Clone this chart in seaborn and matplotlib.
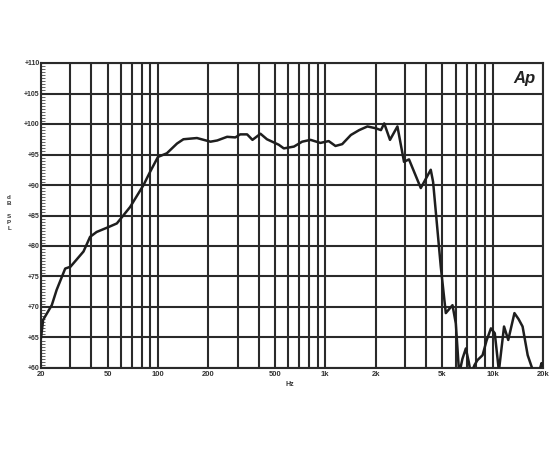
import numpy as np
import pandas as pd
import seaborn as sns
import matplotlib.pyplot as plt
from matplotlib.ticker import FixedLocator, NullFormatter

# frequency response
freq = [20, 20.6, 23.2, 24.8, 27.9, 30, 35.9, 39.3, 43, 50.6, 56.8, 68.2, 82, 89.9,
        100, 113, 130, 142, 171, 206, 226, 259, 290, 310, 341, 367, 410, 448, 527,
        565, 650, 727, 816, 935, 1048, 1150, 1262, 1422, 1594, 1786, 2000, 2150,
        2250, 2436, 2698, 2954, 3164, 3721, 4268, 4408, 4900, 5250, 5756, 6026,
        6310, 6600, 6918, 7200, 7414, 7800, 8122, 8709, 9200, 9770, 10300, 10900, 11700,
        12400, 13500, 14300, 15100, 16200, 17700, 19000, 19600, 20000]
spl = [64.9, 67.9, 70.3, 72.8, 76.3, 76.6, 79.1, 81.5, 82.3, 83.1, 83.7, 86.4, 90.0, 92.2,
       94.6, 95.2, 96.8, 97.5, 97.7, 97.1, 97.3, 97.9, 97.8, 98.3, 98.3, 97.4, 98.4, 97.5, 96.6,
       96.0, 96.3, 97.1, 97.4, 96.9, 97.2, 96.4, 96.7, 98.2, 99.0, 99.6, 99.3, 99.0,
       100.1, 97.4, 99.6, 93.8, 94.2, 89.5, 92.5, 90.5, 76.6, 69.0, 70.3, 67.3,
       59.0, 61.5, 63.2, 61.0, 59.0, 60.5, 61.3, 62.1, 64.5, 66.5, 65.7, 59.5, 66.8,
       64.6, 69.0, 68.0, 66.8, 62.1, 59.0, 59.5, 60.8, 60.3]

y_ticks = [60, 65, 70, 75, 80, 85, 90, 95, 100, 105, 110]
y_labels = ['+60', '+65', '+70', '+75', '+80', '+85', '+90', '+95', '+100', '+105', '+110']
x_ticks = [20, 50, 100, 200, 500, 1000, 2000, 5000, 10000, 20000]
x_labels = ['20', '50', '100', '200', '500', '1k', '2k', '5k', '10k', '20k']
x_grid = [20, 30, 40, 50, 60, 70, 80, 90, 100, 200, 300, 400, 500, 600, 700, 800, 900,
          1000, 2000, 3000, 4000, 5000, 6000, 7000, 8000, 9000, 10000, 20000]

df = pd.DataFrame({'Hz': freq, 'dB SPL': spl})

sns.set_style('white')
plt.rcParams['font.family'] = ['Liberation Sans', 'DejaVu Sans']

fig = plt.figure(figsize=(5.5, 4.5), dpi=100)
ax = fig.add_axes([41/550, 1-368/450, (543-41)/550, (368-63)/450])

for xv in x_grid:
    ax.axvline(xv, color='#2a2a2a', lw=1.5, zorder=1)
for yv in y_ticks:
    ax.axhline(yv, color='#2a2a2a', lw=1.5, zorder=1)

sns.lineplot(data=df, x='Hz', y='dB SPL', ax=ax, color='#1e1e1e', lw=1.8, zorder=3)

ax.set_xscale('log')
ax.set_xlim(20, 20000)
ax.set_ylim(60, 110)

ax.xaxis.set_major_locator(FixedLocator(x_ticks))
ax.xaxis.set_minor_locator(FixedLocator([]))
ax.xaxis.set_minor_formatter(NullFormatter())
ax.set_xticklabels(x_labels, fontsize=5.5, fontweight='bold', color='#333333')
ax.set_yticks(y_ticks)
ax.set_yticklabels(y_labels, fontsize=5, fontweight='bold', color='#333333')
ax.yaxis.set_minor_locator(FixedLocator(np.arange(60, 110.1, 0.5)))
ax.tick_params(axis='y', which='major', direction='in', length=4, width=0.8, pad=1)
ax.tick_params(axis='y', which='minor', direction='in', length=3, width=0.5, left=True)
ax.tick_params(axis='x', which='major', length=0, pad=2)

for s in ax.spines.values():
    s.set_color('#2a2a2a')
    s.set_linewidth(1.5)

ax.set_xlabel('')
ax.set_ylabel('')
fig.text(290/550, 1-385/450, 'Hz', fontsize=5, fontweight='bold', color='#333333',
         ha='center', va='center')
fig.text(9/550, 1-213/450, 'd\nB\n\nS\nP\nL', fontsize=4.5, fontweight='bold',
         color='#333333', ha='center', va='center', linespacing=1.3)
ax.text(0.985, 0.975, 'Ap', transform=ax.transAxes, fontsize=12, fontweight='bold',
        style='italic', ha='right', va='top', color='#222222')

fig.savefig('out.png', dpi=100)
